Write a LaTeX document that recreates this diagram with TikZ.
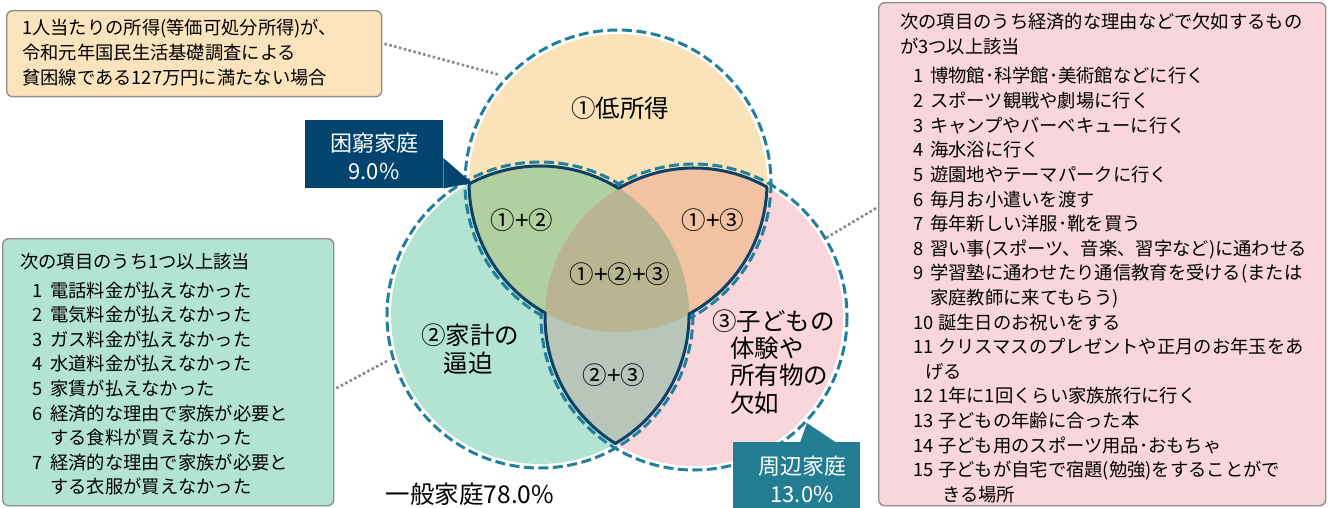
\documentclass[tikz,border=0pt]{standalone}
\usepackage{fontspec}
\setmainfont{Noto Sans CJK JP}
\usetikzlibrary{calc}
\definecolor{yel}{HTML}{FAE3B9}
\definecolor{tlfill}{HTML}{FBE3BE}
\definecolor{grn}{HTML}{B3E3D2}
\definecolor{pnk}{HTML}{F8D6DB}
\definecolor{fab}{HTML}{B0D09F}
\definecolor{fac}{HTML}{F2C2A3}
\definecolor{fbc}{HTML}{B8C5B9}
\definecolor{fabc}{HTML}{B9B591}
\definecolor{ringc}{HTML}{23809A}
\definecolor{navyline}{HTML}{0C4267}
\definecolor{navybox}{HTML}{03446F}
\definecolor{tealbox}{HTML}{227D93}
\definecolor{boxborder}{HTML}{8F8F8F}
\definecolor{dotc}{HTML}{8A8A8A}
\begin{document}
\begin{tikzpicture}[x=1pt,y=-1pt,
  dashring/.style={draw=ringc, line width=3pt, dash pattern=on 10pt off 4.5pt},
  outl/.style={draw=navyline, line width=3pt, line join=round},
  dotline/.style={draw=dotc, line width=2.6pt, dash pattern=on 2.6pt off 2.4pt},
  infobox/.style={draw=boxborder, line width=1.4pt, rounded corners=6pt, anchor=north west, inner sep=0pt},
  boxtxt/.style={anchor=base west, inner sep=0pt, font=\fontsize{18.3}{22}\selectfont},
  vlabel/.style={inner sep=0pt, font=\fontsize{24.5}{28}\selectfont},
  callbox/.style={anchor=north west, inner sep=0pt},
  calltxt/.style={inner sep=0pt, text=white, align=center, font=\fontsize{22}{28}\selectfont},
]
\useasboundingbox (0,0) rectangle (1329,508);
\def\R{149}
\coordinate (c1) at (618,183);
\coordinate (c2) at (540,315);
\coordinate (c3) at (694,317);
% base fills
\fill[yel] (c1) circle[radius=\R];
\fill[grn] (c2) circle[radius=\R];
\fill[pnk] (c3) circle[radius=\R];
% dashed rings
\draw[dashring] (c1) circle[radius=153];
\draw[dashring] (c2) circle[radius=153];
\draw[dashring] (c3) circle[radius=153];
% overlaps
\begin{scope}\clip (c1) circle[radius=\R]; \fill[fab] (c2) circle[radius=\R];\end{scope}
\begin{scope}\clip (c1) circle[radius=\R]; \fill[fac] (c3) circle[radius=\R];\end{scope}
\begin{scope}\clip (c2) circle[radius=\R]; \fill[fbc] (c3) circle[radius=\R];\end{scope}
\begin{scope}\clip (c1) circle[radius=\R]; \clip (c2) circle[radius=\R]; \fill[fabc] (c3) circle[radius=\R];\end{scope}
% outline of overlaps
\draw[outl] (469,184) arc[start angle=-118.46, end angle=-58.14, radius=\R]
  arc[start angle=-120.38, end angle=-60.68, radius=\R]
  arc[start angle=1.57, end angle=61.54, radius=\R]
  arc[start angle=-0.38, end angle=59.62, radius=\R]
  arc[start angle=121.86, end angle=181.57, radius=\R]
  arc[start angle=119.32, end angle=179.62, radius=\R] -- cycle;

% circle labels
\node[vlabel] (L1) at (620,108) {①低所得};
\node[vlabel] (L12) at (522,220) {①+②};
\node[vlabel] (L13) at (713,220) {①+③};
\node[vlabel] (L123) at (620,274) {①+②+③};
\node[vlabel] (L23) at (614,375) {②+③};
\node[vlabel] (L2a) at (470,335) {②家計の};
\node[vlabel] (L2b) at (468,363) {逼迫};
\node[vlabel, anchor=west] (L3a) at (712,321) {③子どもの};
\node[vlabel, anchor=west] (L3b) at (730,348) {体験や};
\node[vlabel, anchor=west] (L3c) at (730,375) {所有物の};
\node[vlabel, anchor=west] (L3d) at (730,403) {欠如};
\node[vlabel] (gen) at (470,494) {一般家庭78.0\%};

% callouts
\node[callbox, fill=navybox, minimum width=138pt, minimum height=68pt] (kon) at (305,120) {};
\coordinate (kontip) at (472,183);
\fill[navybox] ($(kon.north east)+(0,38)$) -- (kontip) -- (kon.south east) -- cycle;
\node[calltxt] (kontxt) at (374,156) {困窮家庭\\9.0\%};

\node[callbox, fill=tealbox, minimum width=127pt, minimum height=70pt] (shu) at (733,442) {};
\coordinate (shutip) at (807,423);
\fill[tealbox] ($(shu.north west)+(67,0.5)$) -- (shutip) -- ($(shu.north west)+(103,0.5)$) -- cycle;
\node[calltxt] (shutxt) at (802,479) {周辺家庭\\13.0\%};

% top-left box
\node[infobox, fill=tlfill, minimum width=375pt, minimum height=86pt] (tlbox) at (6,10) {};
\node[boxtxt] (tl1) at (22,35) {1人当たりの所得(等価可処分所得)が、};
\node[boxtxt] (tl2) at (22,60) {令和元年国民生活基礎調査による};
\node[boxtxt] (tl3) at (22,85) {貧困線である127万円に満たない場合};

% left box
\node[infobox, fill=grn, minimum width=331pt, minimum height=267pt] (lbox) at (2,238) {};
\node[boxtxt] (lh) at (20,268) {次の項目のうち1つ以上該当};
\node[boxtxt] (l1) at (32,297) {\makebox[18pt][l]{1}電話料金が払えなかった};
\node[boxtxt] (l2) at (32,321.6) {\makebox[18pt][l]{2}電気料金が払えなかった};
\node[boxtxt] (l3) at (32,346.2) {\makebox[18pt][l]{3}ガス料金が払えなかった};
\node[boxtxt] (l4) at (32,370.8) {\makebox[18pt][l]{4}水道料金が払えなかった};
\node[boxtxt] (l5) at (32,395.4) {\makebox[18pt][l]{5}家賃が払えなかった};
\node[boxtxt] (l6) at (32,420) {\makebox[18pt][l]{6}経済的な理由で家族が必要と};
\node[boxtxt] (l6b) at (50,444.6) {する食料が買えなかった};
\node[boxtxt] (l7) at (32,469.2) {\makebox[18pt][l]{7}経済的な理由で家族が必要と};
\node[boxtxt] (l7b) at (50,493.8) {する衣服が買えなかった};

% right box
\node[infobox, fill=pnk, minimum width=447pt, minimum height=503pt] (rbox) at (878,2) {};
\node[boxtxt] (rh1) at (900,29) {次の項目のうち経済的な理由などで欠如するもの};
\node[boxtxt] (rh2) at (900,54) {が3つ以上該当};
\node[boxtxt] (r1) at (913,83) {\makebox[17pt][l]{1}博物館･科学館･美術館などに行く};
\node[boxtxt] (r2) at (913,107.6) {\makebox[17pt][l]{2}スポーツ観戦や劇場に行く};
\node[boxtxt] (r3) at (913,132.2) {\makebox[17pt][l]{3}キャンプやバーベキューに行く};
\node[boxtxt] (r4) at (913,156.8) {\makebox[17pt][l]{4}海水浴に行く};
\node[boxtxt] (r5) at (913,181.4) {\makebox[17pt][l]{5}遊園地やテーマパークに行く};
\node[boxtxt] (r6) at (913,206) {\makebox[17pt][l]{6}毎月お小遣いを渡す};
\node[boxtxt] (r7) at (913,230.6) {\makebox[17pt][l]{7}毎年新しい洋服･靴を買う};
\node[boxtxt] (r8) at (913,255.2) {\makebox[17pt][l]{8}習い事(スポーツ、音楽、習字など)に通わせる};
\node[boxtxt] (r9) at (913,279.8) {\makebox[17pt][l]{9}学習塾に通わせたり通信教育を受ける(または};
\node[boxtxt] (r9b) at (930,304.4) {家庭教師に来てもらう)};
\node[boxtxt] (r10) at (913,329) {\makebox[25pt][l]{10}誕生日のお祝いをする};
\node[boxtxt] (r11) at (913,353.6) {\makebox[25pt][l]{11}クリスマスのプレゼントや正月のお年玉をあ};
\node[boxtxt] (r11b) at (925,378.2) {げる};
\node[boxtxt] (r12) at (913,402.8) {\makebox[25pt][l]{12}1年に1回くらい家族旅行に行く};
\node[boxtxt] (r13) at (913,427.4) {\makebox[25pt][l]{13}子どもの年齢に合った本};
\node[boxtxt] (r14) at (913,452) {\makebox[25pt][l]{14}子ども用のスポーツ用品･おもちゃ};
\node[boxtxt] (r15) at (913,476.6) {\makebox[25pt][l]{15}子どもが自宅で宿題(勉強)をすることがで};
\node[boxtxt] (r15b) at (942,501.2) {きる場所};

% dotted connectors
\coordinate (d1) at (500,75);
\draw[dotline] ([xshift=2pt,yshift=10pt]tlbox.east) -- (d1);
\coordinate (d2) at (387,361);
\draw[dotline] ([xshift=2pt,yshift=-16pt]lbox.east) -- (d2);
\coordinate (d3) at (826,238);
\draw[dotline] ([xshift=-2pt,yshift=46pt]rbox.west) -- (d3);
\end{tikzpicture}
\end{document}
